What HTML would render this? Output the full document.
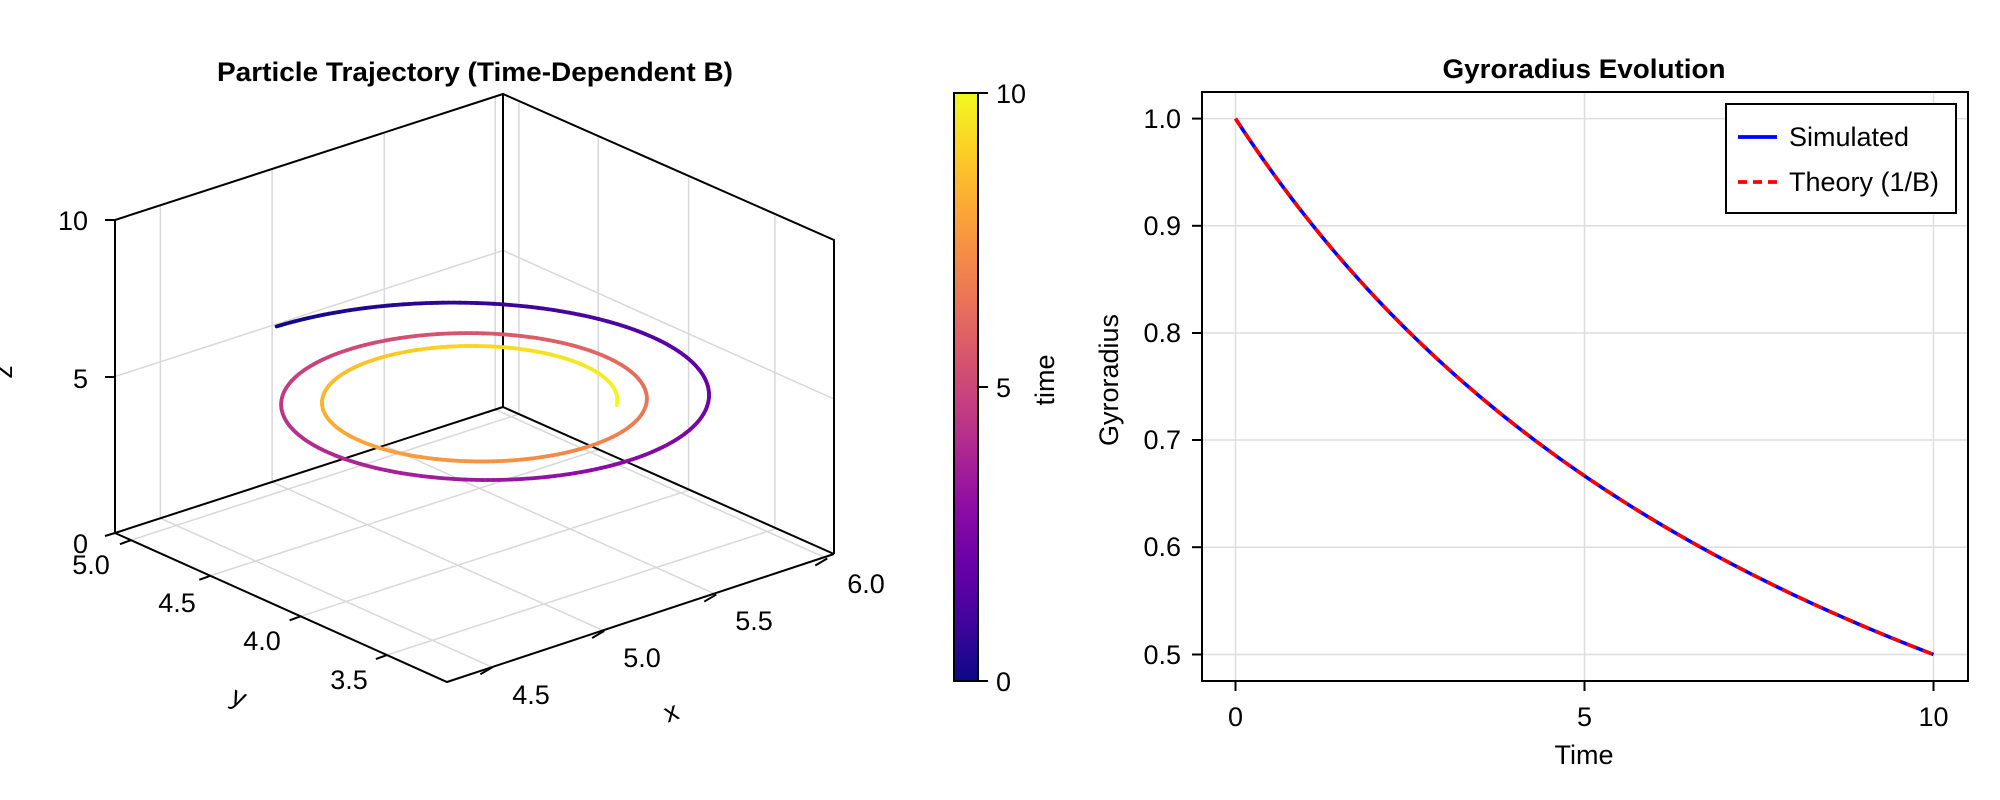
<!DOCTYPE html>
<html><head><meta charset="utf-8"><style>
html,body{margin:0;padding:0;background:#fff;}
svg{display:block;font-family:"Liberation Sans",sans-serif;}
</style></head><body>
<svg id="s" width="2000" height="800" viewBox="0 0 2000 800" xmlns="http://www.w3.org/2000/svg">
<defs>
<linearGradient id="cb" x1="0" y1="1" x2="0" y2="0">
<stop offset="0" stop-color="#0d0887"/><stop offset="0.1" stop-color="#41049d"/><stop offset="0.2" stop-color="#6a00a8"/><stop offset="0.3" stop-color="#8f0da4"/><stop offset="0.4" stop-color="#b12a90"/><stop offset="0.5" stop-color="#cc4778"/><stop offset="0.6" stop-color="#e16462"/><stop offset="0.7" stop-color="#f2844b"/><stop offset="0.8" stop-color="#fca636"/><stop offset="0.9" stop-color="#fcce25"/><stop offset="1" stop-color="#f0f921"/>
</linearGradient>
</defs>
<g id="grid3d" stroke="#d8d8d8" stroke-width="1.5" fill="none"></g>
<g stroke="#000" stroke-width="2" fill="none">
<polyline points="115,533 115,220 503,94 834,240 834,554"/>
<line x1="503" y1="94" x2="503" y2="407"/>
<line x1="503" y1="407" x2="115" y2="533"/>
<line x1="503" y1="407" x2="834" y2="554"/>
<polyline points="115,533 447,682 834,554"/>
<line x1="105" y1="220" x2="115" y2="220"/>
<line x1="105" y1="377" x2="115" y2="377"/>
<line x1="105" y1="536" x2="115" y2="533"/>
</g>
<g id="ticks3d" stroke="#000" stroke-width="2"></g>
<g id="spiral" fill="none" stroke-width="3.8" stroke-linecap="round"></g>
<g font-size="27" fill="#000">
<text x="475" y="81" text-anchor="middle" font-weight="bold" font-size="27" textLength="516" lengthAdjust="spacingAndGlyphs">Particle Trajectory (Time-Dependent B)</text>
<text x="88" y="230" text-anchor="end">10</text>
<text x="88" y="388" text-anchor="end">5</text>
<text x="88" y="553" text-anchor="end">0</text>
<text x="20" y="380" text-anchor="middle" transform="rotate(-90 12 380)">z</text>
<text x="91" y="574" text-anchor="middle">5.0</text>
<text x="177" y="612" text-anchor="middle">4.5</text>
<text x="262" y="650" text-anchor="middle">4.0</text>
<text x="349" y="689" text-anchor="middle">3.5</text>
<text x="239" y="706" text-anchor="middle" transform="rotate(24 239 697)">y</text>
<text x="531" y="704" text-anchor="middle">4.5</text>
<text x="642" y="667" text-anchor="middle">5.0</text>
<text x="754" y="630" text-anchor="middle">5.5</text>
<text x="866" y="593" text-anchor="middle">6.0</text>
<text x="671" y="721" text-anchor="middle" transform="rotate(-20 671 712)">x</text>
</g>
<rect x="954" y="93" width="24" height="588" fill="url(#cb)" stroke="#000" stroke-width="2"/>
<g stroke="#000" stroke-width="2"><line x1="978" y1="93" x2="988" y2="93"/><line x1="978" y1="387" x2="988" y2="387"/><line x1="978" y1="681" x2="988" y2="681"/></g>
<g font-size="27" fill="#000">
<text x="996" y="103">10</text><text x="996" y="397">5</text><text x="996" y="691">0</text>
<text x="1062" y="388" text-anchor="middle" transform="rotate(-90 1054 388)">time</text>
</g>
<g stroke="#dedede" stroke-width="1.5">
<line x1="1235.5" y1="92" x2="1235.5" y2="681"/><line x1="1584.5" y1="92" x2="1584.5" y2="681"/><line x1="1933.5" y1="92" x2="1933.5" y2="681"/>
<line x1="1202" y1="118.6" x2="1968" y2="118.6"/><line x1="1202" y1="225.8" x2="1968" y2="225.8"/><line x1="1202" y1="333" x2="1968" y2="333"/><line x1="1202" y1="440" x2="1968" y2="440"/><line x1="1202" y1="547.2" x2="1968" y2="547.2"/><line x1="1202" y1="654.5" x2="1968" y2="654.5"/>
</g>
<path id="blue" fill="none" stroke="#0000ff" stroke-width="3.6"/>
<path id="red" fill="none" stroke="#ff0000" stroke-width="3.6" stroke-dasharray="10,7"/>
<rect x="1202" y="92" width="766" height="589" fill="none" stroke="#000" stroke-width="2"/>
<g stroke="#000" stroke-width="2">
<line x1="1192" y1="118.6" x2="1202" y2="118.6"/><line x1="1192" y1="225.8" x2="1202" y2="225.8"/><line x1="1192" y1="333" x2="1202" y2="333"/><line x1="1192" y1="440" x2="1202" y2="440"/><line x1="1192" y1="547.2" x2="1202" y2="547.2"/><line x1="1192" y1="654.5" x2="1202" y2="654.5"/>
<line x1="1235.5" y1="681" x2="1235.5" y2="691"/><line x1="1584.5" y1="681" x2="1584.5" y2="691"/><line x1="1933.5" y1="681" x2="1933.5" y2="691"/>
</g>
<g font-size="27" fill="#000">
<text x="1584" y="78" text-anchor="middle" font-weight="bold" font-size="27" textLength="283" lengthAdjust="spacingAndGlyphs">Gyroradius Evolution</text>
<text x="1181" y="128" text-anchor="end">1.0</text><text x="1181" y="235" text-anchor="end">0.9</text><text x="1181" y="342" text-anchor="end">0.8</text><text x="1181" y="449" text-anchor="end">0.7</text><text x="1181" y="556" text-anchor="end">0.6</text><text x="1181" y="664" text-anchor="end">0.5</text>
<text x="1235.5" y="726" text-anchor="middle">0</text><text x="1584.5" y="726" text-anchor="middle">5</text><text x="1933.5" y="726" text-anchor="middle">10</text>
<text x="1584" y="764" text-anchor="middle">Time</text>
<text x="1126" y="388" text-anchor="middle" transform="rotate(-90 1118 388)">Gyroradius</text>
</g>
<rect x="1726" y="104" width="230" height="109" fill="#fff" stroke="#000" stroke-width="2"/>
<line x1="1738" y1="137" x2="1777" y2="137" stroke="#0000ff" stroke-width="3.8"/>
<line x1="1738" y1="182" x2="1777" y2="182" stroke="#ff0000" stroke-width="3.8" stroke-dasharray="9,6"/>
<g font-size="27" fill="#000"><text x="1789" y="146">Simulated</text><text x="1789" y="191">Theory (1/B)</text></g>
</svg>
<script>
(function(){
var NS="http://www.w3.org/2000/svg";
function el(p,tag,a){var e=document.createElementNS(NS,tag);for(var k in a)e.setAttribute(k,a[k]);p.appendChild(e);return e;}
var A=[115,533],U=[388,-126],V=[332,149],W=[0,-313];
function P(u,v,w){return [A[0]+u*U[0]+v*V[0]+w*W[0],A[1]+u*U[1]+v*V[1]+w*W[1]];}
var g=document.getElementById('grid3d');
var us=[0.117,0.405,0.694,0.98], vs=[0.048,0.287,0.559,0.819];
function ln(p,a,b){el(p,'line',{x1:a[0],y1:a[1],x2:b[0],y2:b[1]});}
us.forEach(function(u){ln(g,P(u,0,0),P(u,0,1));ln(g,P(u,0,0),P(u,1,0));});
vs.forEach(function(v){ln(g,P(1,v,0),P(1,v,1));ln(g,P(0,v,0),P(1,v,0));});
ln(g,P(0,0,0.5),P(1,0,0.5));ln(g,P(1,0,0.5),P(1,1,0.5));
var tk=document.getElementById('ticks3d');
us.forEach(function(u){var a=P(u,1,0);ln(tk,a,[a[0]-12,a[1]+7]);});
vs.forEach(function(v){var a=P(0,v,0);ln(tk,a,[a[0]-11,a[1]+4]);});
var cs=[[13,8,135],[65,4,157],[106,0,168],[143,13,164],[177,42,144],[204,71,120],[225,100,98],[242,132,75],[252,166,54],[252,206,37],[240,249,33]];
function col(t){t=Math.max(0,Math.min(1,t))*10;var i=Math.min(9,Math.floor(t)),f=t-i;var c=cs[i],d=cs[i+1];
return 'rgb('+[0,1,2].map(function(k){return Math.round(c[k]+(d[k]-c[k])*f);}).join(',')+')';}
var sp=document.getElementById('spiral');
var phi0=-135*Math.PI/180,N=500,prev=null;
for(var i=0;i<=N;i++){var t=10*i/N;var ph=phi0+t+0.05*t*t;var r=1/(1+0.1*t);
var x=476+282*r*Math.cos(ph),y=401+105.4*r*Math.sin(ph);
if(prev){el(sp,'line',{x1:prev[0].toFixed(2),y1:prev[1].toFixed(2),x2:x.toFixed(2),y2:y.toFixed(2),stroke:col(t/10)});}
prev=[x,y];}
var d='';for(var j=0;j<=100;j++){var tt=j/10;var rr=1/(1+0.1*tt);var xx=1235.5+tt*69.8,yy=118.6+(1-rr)/0.5*535.9;d+=(j?'L':'M')+xx.toFixed(2)+','+yy.toFixed(2);}
document.getElementById('blue').setAttribute('d',d);document.getElementById('red').setAttribute('d',d);
})();
</script>
</body></html>
